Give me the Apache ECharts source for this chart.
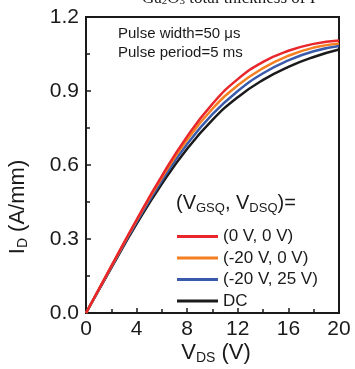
<!DOCTYPE html>
<html><head><meta charset="utf-8">
<script src="https://cdn.jsdelivr.net/npm/echarts@6/dist/echarts.min.js"></script>
<style>html,body{margin:0;padding:0;background:#fff}#c{width:355px;height:369px}</style>
</head><body><div id="c"></div>
<script>
const vds = [0, 2, 4, 6, 8, 10, 12, 14, 16, 18, 20];
const red = [0, 0.19, 0.378, 0.556, 0.716, 0.848, 0.948, 1.018, 1.063, 1.091, 1.105];
const orange = [0, 0.189, 0.375, 0.549, 0.703, 0.828, 0.923, 0.993, 1.043, 1.076, 1.093];
const blue = [0, 0.186, 0.368, 0.537, 0.685, 0.806, 0.9, 0.972, 1.024, 1.061, 1.082];
const black = [0, 0.183, 0.361, 0.524, 0.666, 0.783, 0.875, 0.945, 0.998, 1.038, 1.068];
const names = ['(0 V, 0 V)', '(-20 V, 0 V)', '(-20 V, 25 V)', 'DC'];
const colors = ['#e8262b', '#f47e20', '#3a5bab', '#1a1a1a'];
const seriesVals = [red, orange, blue, black];
const F = '"Liberation Sans", Arial, sans-serif';

const chart = echarts.init(document.getElementById('c'), null, {renderer: 'canvas'});
chart.setOption({
  animation: false,
  grid: {left: 86, right: 16, top: 17, bottom: 56, show: true, borderColor: '#1a1a1a', borderWidth: 2, backgroundColor: 'transparent'},
  xAxis: {
    type: 'value', min: 0, max: 20, interval: 4,
    axisLine: {show: false},
    axisTick: {show: true, inside: true, length: 5, lineStyle: {color: '#1a1a1a', width: 1.5}},
    minorTick: {show: true, splitNumber: 2, length: 4, lineStyle: {color: '#1a1a1a', width: 1.5}},
    splitLine: {show: false},
    axisLabel: {fontFamily: F, fontSize: 21, color: '#1a1a1a', margin: 6}
  },
  yAxis: {
    type: 'value', min: 0, max: 1.2, interval: 0.3,
    axisLine: {show: false},
    axisTick: {show: true, inside: true, length: 5, lineStyle: {color: '#1a1a1a', width: 1.5}},
    minorTick: {show: true, splitNumber: 2, length: 4, lineStyle: {color: '#1a1a1a', width: 1.5}},
    splitLine: {show: false},
    axisLabel: {fontFamily: F, fontSize: 21, color: '#1a1a1a', margin: 7, formatter: v => v.toFixed(1)}
  },
  legend: {
    orient: 'vertical', left: 172, top: 223, itemWidth: 41, itemHeight: 3, itemGap: 4.5, icon: 'rect',
    textStyle: {fontFamily: F, fontSize: 17, color: '#1a1a1a', lineHeight: 17},
    data: names
  },
  series: seriesVals.map((vals, i) => ({
    name: names[i], type: 'line', smooth: 0.5, symbol: 'none',
    data: vds.map((x, j) => [x, vals[j]]),
    lineStyle: {color: colors[i], width: 2.5},
    itemStyle: {color: colors[i]},
    z: 10 - i
  })),
  graphic: [
    {type: 'text', left: 142, top: -10, style: {text: 'Ga{s|2}O{s|3} total thickness of I', fontFamily: '"Liberation Serif", serif', fontSize: 17, fill: '#1a1a1a',
      rich: {s: {fontSize: 11, verticalAlign: 'bottom', padding: [6, 0, 0, 0], fontFamily: '"Liberation Serif", serif'}}}},
    {type: 'text', left: 118, top: 26, style: {text: 'Pulse width=50 μs', fontFamily: F, fontSize: 15, fill: '#1a1a1a'}},
    {type: 'text', left: 118, top: 45, style: {text: 'Pulse period=5 ms', fontFamily: F, fontSize: 15, fill: '#1a1a1a'}},
    {type: 'text', left: 176, top: 193, style: {text: '(V{s|GSQ}, V{s|DSQ})=', fontFamily: F, fontSize: 20, fill: '#1a1a1a',
      rich: {s: {fontSize: 13, fontFamily: F, padding: [10, 0, 0, 0]}}}},
    {type: 'text', x: 18, y: 207, rotation: Math.PI / 2, style: {text: 'I{s|D} (A/mm)', fontFamily: F, fontSize: 22, fill: '#1a1a1a', align: 'center', verticalAlign: 'middle',
      rich: {s: {fontSize: 14, fontFamily: F, padding: [10, 0, 0, 0]}}}},
    {type: 'text', x: 216, y: 353, style: {text: 'V{s|DS} (V)', fontFamily: F, fontSize: 22, fill: '#1a1a1a', align: 'center', verticalAlign: 'middle',
      rich: {s: {fontSize: 14, fontFamily: F, padding: [10, 0, 0, 0]}}}}
  ]
});
</script></body></html>
